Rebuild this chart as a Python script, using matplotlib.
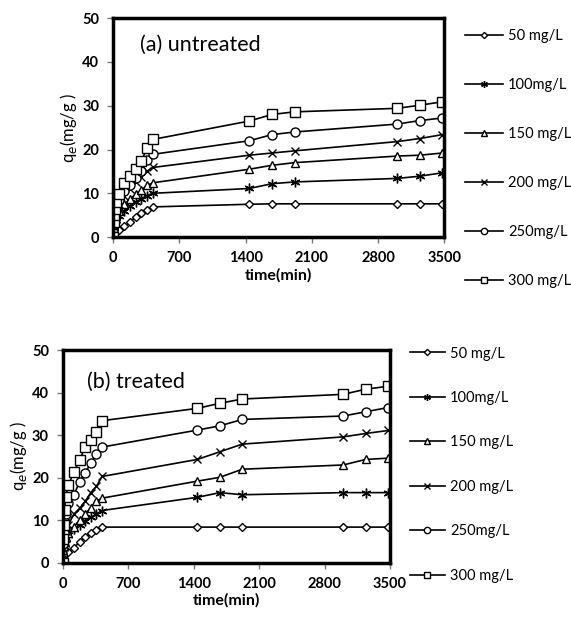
import matplotlib
matplotlib.use('Agg')
import matplotlib.pyplot as plt

# sampling times (min)
time = [0, 5, 10, 20, 30, 60, 120, 180, 240, 300, 360, 420, 1440, 1680, 1920, 3000, 3240, 3480]

labels = ['50 mg/L', '100mg/L', '150 mg/L', '200 mg/L', '250mg/L', '300 mg/L']
markers = ['D', (6, 2, 0), '^', 'x', 'o', 's']
msizes = [4.5, 7, 6, 6, 6.5, 6.5]

# (a) untreated
untreated_50 = [0, 0.5, 0.8, 1.0, 1.3, 1.6, 2.5, 3.5, 4.5, 5.5, 6.3, 6.9, 7.5, 7.6, 7.6, 7.6, 7.6, 7.6]
untreated_100 = [0, 1.5, 2.2, 3.0, 3.8, 4.8, 6.0, 7.0, 8.0, 8.8, 9.5, 10.0, 11.1, 12.2, 12.6, 13.4, 13.9, 14.7]
untreated_150 = [0, 2.0, 2.8, 3.8, 4.8, 6.0, 7.5, 8.7, 9.8, 10.8, 11.8, 12.4, 15.5, 16.4, 17.0, 18.5, 18.7, 19.2]
untreated_200 = [0, 2.5, 3.5, 4.5, 6.0, 7.5, 9.5, 11.0, 12.5, 13.8, 15.0, 15.9, 18.7, 19.2, 19.7, 21.8, 22.5, 23.4]
untreated_250 = [0, 3.0, 4.3, 5.5, 7.0, 8.5, 10.5, 12.0, 13.5, 15.0, 17.5, 18.9, 22.0, 23.4, 24.0, 25.8, 26.6, 27.2]
untreated_300 = [0, 3.5, 5.0, 6.5, 8.0, 9.8, 12.4, 13.9, 15.5, 17.4, 20.4, 22.3, 26.5, 28.0, 28.6, 29.4, 30.1, 30.9]

# (b) treated
treated_50 = [0, 1.0, 1.5, 2.0, 2.3, 2.5, 3.5, 5.0, 6.0, 7.0, 7.8, 8.4, 8.4, 8.4, 8.4, 8.4, 8.4, 8.4]
treated_100 = [0, 2.5, 3.5, 4.5, 5.5, 6.5, 8.0, 9.0, 9.8, 10.7, 11.5, 12.3, 15.4, 16.5, 16.0, 16.5, 16.5, 16.5]
treated_150 = [0, 3.0, 4.0, 5.0, 6.0, 7.0, 8.5, 10.0, 11.5, 13.0, 14.5, 15.2, 19.2, 20.1, 22.0, 23.0, 24.3, 24.6]
treated_200 = [0, 3.5, 5.0, 6.5, 7.5, 9.0, 11.5, 12.8, 14.5, 16.5, 18.0, 20.3, 24.3, 26.1, 27.9, 29.6, 30.4, 31.1]
treated_250 = [0, 4.5, 7.0, 9.5, 11.5, 14.0, 16.0, 19.1, 21.2, 23.4, 25.6, 27.2, 31.2, 32.2, 33.7, 34.5, 35.5, 36.5]
treated_300 = [0, 5.5, 9.0, 12.5, 15.5, 18.3, 21.4, 24.2, 27.3, 28.9, 30.8, 33.4, 36.3, 37.5, 38.5, 39.6, 40.8, 41.5]

untreated = [untreated_50, untreated_100, untreated_150, untreated_200, untreated_250, untreated_300]
treated = [treated_50, treated_100, treated_150, treated_200, treated_250, treated_300]

xticks = [0, 700, 1400, 2100, 2800, 3500]
yticks = [0, 10, 20, 30, 40, 50]

fig = plt.figure(figsize=(5.71, 6.24), dpi=100)
ax1 = fig.add_axes([0.198, 0.620, 0.580, 0.351])
ax2 = fig.add_axes([0.110, 0.098, 0.573, 0.341])


def draw_panel(ax, series, title, title_xy, leg_anchor, spacing, hlen):
    for vals, lab, m, ms in zip(series, labels, markers, msizes):
        ax.plot(time, vals, color='black', lw=1.2, marker=m, markersize=ms,
                markerfacecolor='white', markeredgecolor='black', markeredgewidth=1.0,
                label=lab)
    ax.set_xlim(0, 3500)
    ax.set_ylim(0, 50)
    ax.set_xticks(xticks)
    ax.set_yticks(yticks)
    for s in ax.spines.values():
        s.set_linewidth(2.5)
    ax.tick_params(direction='out', length=4, width=1, color='#777777', pad=6)
    for t in ax.get_xticklabels() + ax.get_yticklabels():
        t.set_fontweight('bold')
        t.set_fontsize(10.5)
        t.set_family('Lato')
    ax.set_xlabel('time(min)', fontsize=11.5, fontweight='bold', family='Lato', labelpad=2)
    ax.set_ylabel('q$_e$(mg/g )', fontsize=12, family='Lato', labelpad=2)
    ax.text(title_xy[0], title_xy[1], title, fontsize=15.5, family='Lato',
            ha='left', va='center')
    ax.legend(loc='upper left', bbox_to_anchor=leg_anchor, frameon=False,
              handlelength=hlen, handletextpad=0.35, labelspacing=spacing,
              borderaxespad=0, markerscale=0.7,
              prop={'family': 'Lato', 'size': 10.5})


draw_panel(ax1, untreated, '(a) untreated', (290, 43.8), (1.045, 0.977), 2.4, 2.6)
draw_panel(ax2, treated, '(b) treated', (260, 42.5), (1.043, 1.044), 2.09, 2.4)

fig.savefig('out.png', dpi=100)
